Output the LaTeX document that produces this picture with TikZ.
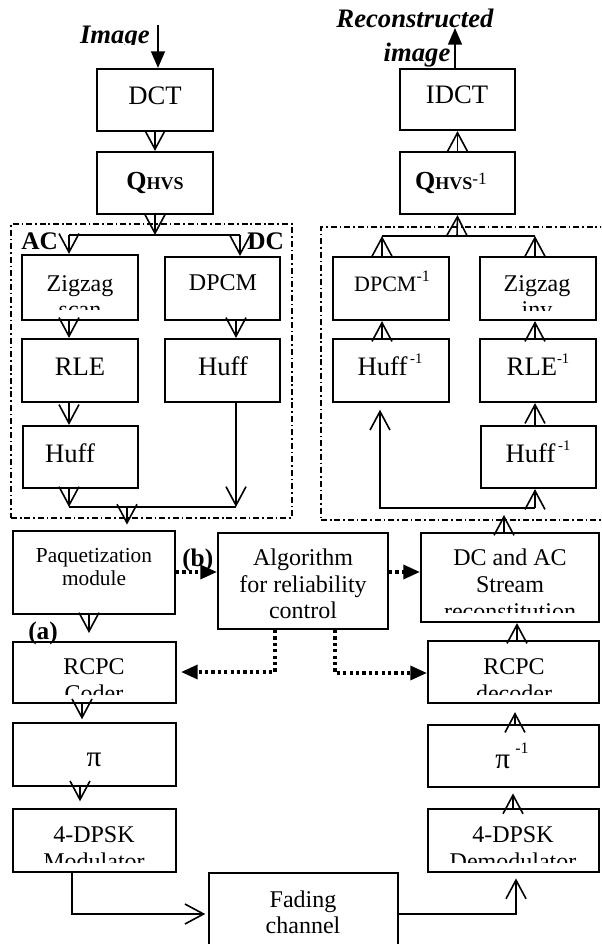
\documentclass[tikz,border=0pt]{standalone}
\usepackage{fontspec}
\setmainfont{Liberation Serif}
\usetikzlibrary{arrows.meta,fit}
\newcommand{\supx}[3]{\raisebox{#2}{\fontsize{#1}{#1}\selectfont #3}}
\begin{document}
\begin{tikzpicture}[x=0.75pt,y=-0.75pt,
  box/.style={draw,line width=1.6pt,inner sep=0pt},
  dashbox/.style={draw,line width=1.1pt,inner sep=0pt,dash pattern=on 4.5pt off 2.2pt on 1.2pt off 2.2pt},
  conn/.style={line width=1.2pt},
  oarr/.style={-{Straight Barb[length=14pt,width=15pt]}},
  farr/.style={-{Triangle[length=12.5pt,width=10.5pt]}},
  dots/.style={line width=2.6pt,dash pattern=on 2.4pt off 2.4pt},
  txt/.style={anchor=base,inner sep=0pt},
  t20/.style={txt,font=\fontsize{20}{24}\selectfont},
  t18/.style={txt,font=\fontsize{18}{22}\selectfont},
  t16/.style={txt,font=\fontsize{16}{19}\selectfont},
  lbl/.style={anchor=base west,inner sep=0pt,font=\fontsize{19}{22}\selectfont\bfseries}]
\useasboundingbox (0,0) rectangle (601,944);
\clip (0,0) rectangle (601,944);

% group frames
\node[dashbox,fit={(11,224)(292,518)}] (encgrp) {};
\node[dashbox,fit={(321,227)(620,520)}] (decgrp) {};

% boxes
\node[box,fit={(97,69)(213,131)}] (dct) {};
\node[box,fit={(97,152)(213,214)}] (qh) {};
\node[box,fit={(400,69)(515,130)}] (idct) {};
\node[box,fit={(400,152)(515,214)}] (qhi) {};
\node[box,fit={(22,255)(138,320)}] (zig) {};
\node[box,fit={(165,257)(280,320)}] (dpcm) {};
\node[box,fit={(22,339)(138,402)}] (rle) {};
\node[box,fit={(165,339)(280,402)}] (huffdc) {};
\node[box,fit={(23,426)(138,488)}] (huffac) {};
\node[box,fit={(333,257)(449,320)}] (dpcmi) {};
\node[box,fit={(480,257)(596,320)}] (zigi) {};
\node[box,fit={(333,339)(449,402)}] (huffil) {};
\node[box,fit={(480,339)(596,402)}] (rlei) {};
\node[box,fit={(481,426)(596,488)}] (huffir) {};
\node[box,fit={(13,531)(175,614)}] (paq) {};
\node[box,fit={(218,533)(388,629)}] (alg) {};
\node[box,fit={(421,533)(599,622)}] (dcac) {};
\node[box,fit={(13,642)(176,703)}] (rcpc) {};
\node[box,fit={(428,641)(599,703)}] (rcpcd) {};
\node[box,fit={(13,723)(176,786)}] (pi) {};
\node[box,fit={(428,725)(599,787)}] (pii) {};
\node[box,fit={(13,809)(176,872)}] (mod) {};
\node[box,fit={(428,809)(599,872)}] (demod) {};
\node[box,fit={(209,873)(398,980)}] (fade) {};

% texts
\begin{scope}
\clip (0,0) rectangle (601,45);
\node[anchor=base east,inner sep=0pt,font=\fontsize{20}{24}\selectfont\bfseries\itshape] (imgl) at (150,44) {Image};
\end{scope}
\node[t20,font=\fontsize{20}{24}\selectfont\bfseries\itshape] (rec1) at (415,28) {Reconstructed};
\node[t20,font=\fontsize{20}{24}\selectfont\bfseries\itshape] (rec2) at (417,62) {image};
\node[t20] (dctt) at (155,105) {DCT};
\node[txt,font=\bfseries] (qht) at (155,190) {\fontsize{19.5}{19}\selectfont Q\fontsize{13.5}{13}\selectfont HVS};
\node[t20] (idctt) at (457,104) {IDCT};
\node[txt,font=\bfseries] (qhit) at (451,190) {\fontsize{19.5}{19}\selectfont Q\fontsize{13.5}{13}\selectfont HVS\mdseries\supx{13}{3.75pt}{-1}};
\node[lbl] (acl) at (21,250) {AC};
\node[lbl] (dcl) at (247,250) {DC};
\node[t18] (zigt) at (80,292) {Zigzag};
\begin{scope}
\clip (0,300) rectangle (601,310);
\node[t18] (zigt2) at (80,318) {scan};
\end{scope}
\node[t18] (dpcmt) at (223,291) {DPCM};
\node[t20] (rlet) at (80,375) {RLE};
\node[t20] (huffdct) at (223,375) {Huff};
\node[t20] (huffact) at (70,462) {Huff};
\node[txt,font=\fontsize{16.5}{19}\selectfont] (dpcmit) at (392,292) {DPCM\supx{12}{7.5pt}{-1}};
\node[t18] (zigit) at (537,292) {Zigzag};
\begin{scope}
\clip (0,300) rectangle (601,311);
\node[t18] (zigit2) at (537,318) {inv};
\end{scope}
\node[t20] (huffilt) at (390,375) {Huff\kern2pt\supx{11}{9pt}{-1}};
\node[t20] (rleit) at (538,375) {RLE\supx{11}{9pt}{-1}};
\node[t20] (huffirt) at (538,462) {Huff\kern2pt\supx{11}{9pt}{-1}};
\node[t16] (paqt1) at (94,562) {Paquetization};
\node[t16] (paqt2) at (94,585) {module};
\node[lbl] (bl) at (182,566) {(b)};
\node[t18] (algt1) at (303,565) {Algorithm};
\node[t18] (algt2) at (303,592) {for reliability};
\begin{scope}
\clip (0,600) rectangle (601,620);
\node[t18] (algt3) at (303,618) {control};
\end{scope}
\node[t18] (dcact1) at (510,565) {DC and AC};
\node[t18] (dcact2) at (510,592) {Stream};
\begin{scope}
\clip (0,600) rectangle (601,612);
\node[t18] (dcact3) at (510,619) {reconstitution};
\end{scope}
\node[lbl] (al) at (28,639) {(a)};
\node[t18] (rcpct1) at (94,674) {RCPC};
\node[t18] (rcpcdt1) at (514,674) {RCPC};
\begin{scope}
\clip (0,680) rectangle (601,694);
\node[t18] (rcpct2) at (94,701) {Coder};
\node[t18] (rcpcdt2) at (514,701) {decoder};
\end{scope}
\node[txt,font=\fontsize{22}{24}\selectfont] (pit) at (94,766) {π};
\node[txt,font=\fontsize{22}{24}\selectfont] (piit) at (512,768) {π\kern4pt\supx{12}{11pt}{-1}};
\node[t18] (modt1) at (94,842) {4-DPSK};
\node[t18] (demodt1) at (513,842) {4-DPSK};
\begin{scope}
\clip (0,845) rectangle (601,862);
\node[t18] (modt2) at (94,869) {Modulator};
\node[t18] (demodt2) at (513,869) {Demodulator};
\end{scope}
\node[t18] (fadet1) at (303,907) {Fading};
\node[t18] (fadet2) at (303,933) {channel};

% coordinates
\coordinate (imgtop) at (158,25);
\coordinate (splitA) at (155,235);
\coordinate (acL) at (69,235);
\coordinate (dcR) at (240,235);
\coordinate (colB) at (236,0);
\coordinate (mL) at (69,507);
\coordinate (mR) at (236,507);
\coordinate (mM) at (127,507);
\coordinate (recTop) at (455,28);
\coordinate (rsplit) at (457,236);
\coordinate (rL) at (382,236);
\coordinate (rR) at (535,236);
\coordinate (bL) at (380,508);
\coordinate (bR) at (535,508);
\coordinate (upE) at (504,515);
\coordinate (pyb) at (0,572);
\coordinate (aP) at (89,633);
\coordinate (dl) at (275,672);
\coordinate (dr) at (335,673);
\coordinate (cR) at (517,0);
\coordinate (cA) at (82,0);
\coordinate (cB) at (80,0);
\coordinate (cC) at (515,0);
\coordinate (cD) at (513,0);
\coordinate (fL) at (72,914);
\coordinate (fR) at (516,914);

% encoder connectors
\draw[conn,farr] (imgtop) -- (imgtop |- dct.north);
\draw[conn,oarr] (dct.south) -- (qh.north);
\draw[conn,oarr] (qh.south) -- (splitA);
\draw[conn] (acL) -- (dcR);
\draw[conn,oarr] (acL) -- (acL |- zig.north);
\draw[conn,oarr] (dcR) -- (dcR |- dpcm.north);
\draw[conn,oarr] (zig.south -| acL) -- (rle.north -| acL);
\draw[conn,oarr] (rle.south -| acL) -- (huffac.north -| acL);
\draw[conn,oarr] (dpcm.south -| colB) -- (huffdc.north -| colB);
\draw[conn,oarr] (huffac.south -| mL) -- (mL);
\draw[conn,oarr] (huffdc.south -| mR) -- (mR);
\draw[conn] (mL) -- (mR);
\draw[conn,oarr,shorten >=4pt] (mM) -- (mM |- paq.north);

% decoder connectors
\draw[conn,farr] (idct.north -| recTop) -- (recTop);
\draw[conn,oarr] (qhi.north) -- (idct.south);
\draw[conn,oarr] (rsplit) -- (qhi.south);
\draw[conn] (rL) -- (rR);
\draw[conn,oarr] (dpcmi.north -| rL) -- (rL);
\draw[conn,oarr] (zigi.north -| rR) -- (rR);
\draw[conn,oarr] (huffil.north -| rL) -- (dpcmi.south -| rL);
\draw[conn,oarr] (rlei.north -| rR) -- (zigi.south -| rR);
\draw[conn,oarr] (huffir.north -| rR) -- (rlei.south -| rR);
\draw[conn,oarr,shorten >=5pt] (bR) -- (bL) -- (huffil.south -| bL);
\draw[conn,oarr] (bR) -- (huffir.south -| bR);
\draw[conn,oarr] (dcac.north -| upE) -- (upE);

% channel chain
\draw[dots,farr] (paq.east |- pyb) -- (alg.west |- pyb);
\draw[dots,farr] (alg.east |- pyb) -- (dcac.west |- pyb);
\draw[conn,oarr] (paq.south -| aP) -- (aP);
\draw[dots,farr,shorten >=3pt] (alg.south -| dl) -- (dl) -- (rcpc.east |- dl);
\draw[dots,farr] (alg.south -| dr) -- (dr) -- (rcpcd.west |- dr);
\draw[conn,oarr] (rcpcd.north -| cR) -- (dcac.south -| cR);
\draw[conn,oarr,shorten >=2pt] (rcpc.south -| cA) -- (pi.north -| cA);
\draw[conn,oarr,shorten >=5pt] (pi.south -| cB) -- (mod.north -| cB);
\draw[conn,oarr,shorten >=6pt] (pii.north -| cC) -- (rcpcd.south -| cC);
\draw[conn,oarr,shorten >=4pt] (demod.north -| cD) -- (pii.south -| cD);
\draw[conn,oarr,shorten >=2pt] (mod.south -| fL) -- (fL) -- (fade.west |- fL);
\draw[conn,oarr,shorten >=4pt] (fade.east |- fR) -- (fR) -- (demod.south -| fR);
\end{tikzpicture}
\end{document}
